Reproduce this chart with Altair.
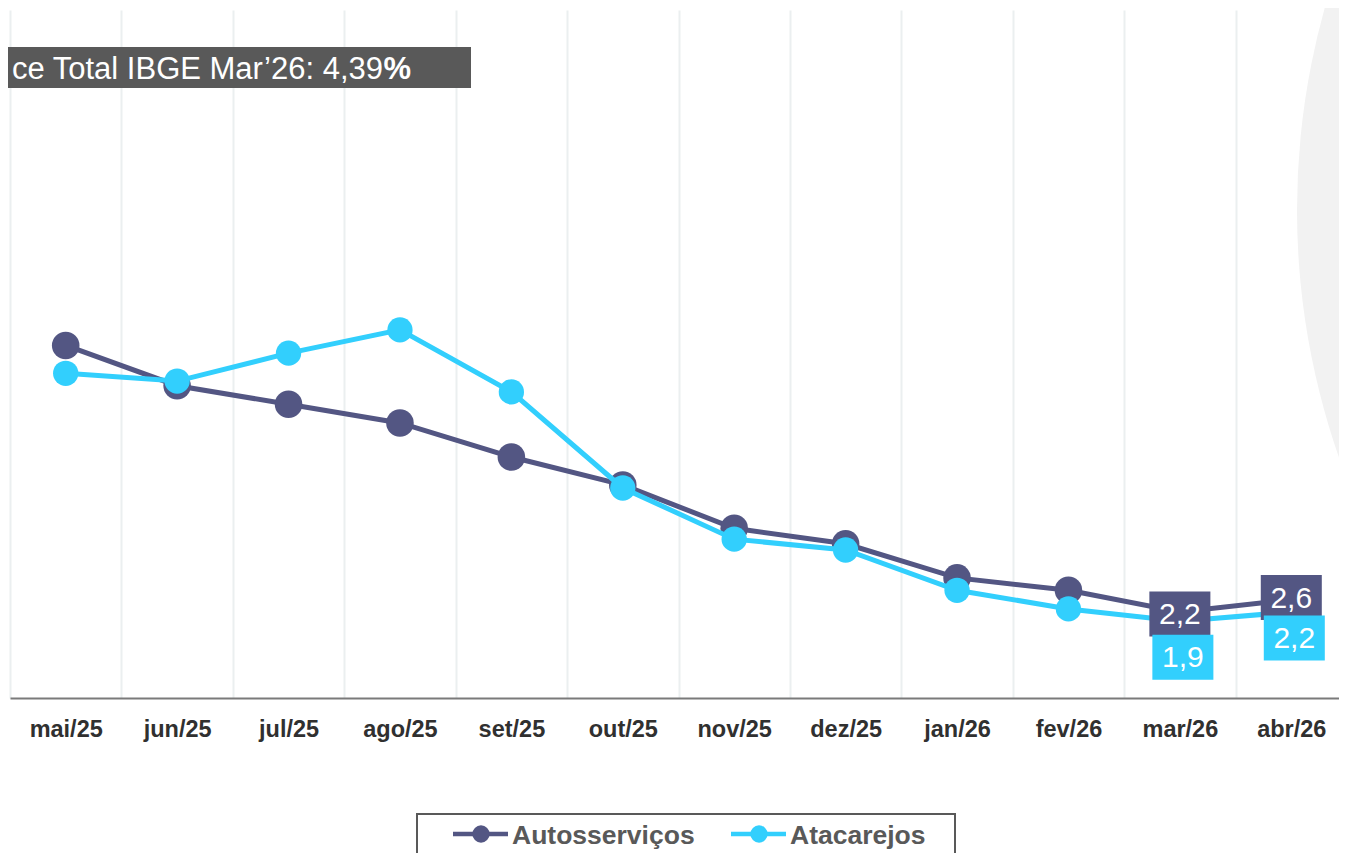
import altair as alt
import pandas as pd

months = ["mai/25", "jun/25", "jul/25", "ago/25", "set/25", "out/25",
          "nov/25", "dez/25", "jan/26", "fev/26", "mar/26", "abr/26"]
auto_vals = [10.8, 9.5, 8.9, 8.3, 7.2, 6.3, 4.9, 4.4, 3.3, 2.9, 2.2, 2.6]
atac_vals = [9.9, 9.65, 10.55, 11.3, 9.3, 6.2, 4.55, 4.2, 2.9, 2.3, 1.9, 2.2]
series = ["Autosserviços", "Atacarejos"]
colors = ["#535683", "#32CFFD"]
labelled_months = ["mar/26", "abr/26"]
title_text = "ce Total IBGE Mar’26: 4,39"
title_pct = "%"

FONT = "Liberation Sans"
DARK, CYAN = colors

rows = []
for m, a, b in zip(months, auto_vals, atac_vals):
    rows.append({"mes": m, "serie": series[0], "valor": a})
    rows.append({"mes": m, "serie": series[1], "valor": b})
df = pd.DataFrame(rows)
df["rotulo"] = df["valor"].map(lambda v: f"{v:.1f}".replace(".", ","))

one = pd.DataFrame({"k": [0]})

x_enc = alt.X(
    "mes:N", sort=months,
    scale=alt.Scale(type="band", paddingInner=0, paddingOuter=0),
    axis=alt.Axis(title=None, labelAngle=0, ticks=False, tickSize=0,
                  tickBand="extent", grid=True, gridColor="#ebeff0",
                  gridWidth=2, domainColor="#7a7a7a", domainWidth=2,
                  labelFont=FONT, labelFontSize=23.5, labelFontWeight="bold",
                  labelColor="#303030", labelPadding=38,
                  labelBaseline="alphabetic"),
)
y_enc = alt.Y("valor:Q", scale=alt.Scale(domain=[-0.574, 21.62]), axis=None)

base = alt.Chart(df).encode(x=x_enc, y=y_enc)

arc = alt.Chart(one).mark_point(shape="circle", filled=True, color="#f2f2f2",
                                opacity=1, size=2250000).encode(
    x=alt.value(2037), y=alt.value(200))


def series_layers(name, color, psize):
    sub = base.transform_filter(alt.datum.serie == name)
    line = sub.mark_line(color=color, strokeWidth=5)
    pts = sub.mark_point(shape="circle", filled=True, color=color, opacity=1,
                         size=psize)
    return [line, pts]


BOX = "M-1.356,-1H1.356V1H-1.356Z"


def label_layers(name, month, color, xo, yo):
    sub = base.transform_filter(
        (alt.datum.serie == name) & (alt.datum.mes == month))
    box = sub.mark_point(shape=BOX, filled=True, color=color, opacity=1,
                         size=2025, strokeWidth=0, xOffset=xo, yOffset=yo)
    txt = sub.mark_text(font=FONT, fontSize=30, color="white", align="center",
                        baseline="middle", dx=xo, dy=yo + 1).encode(
        text="rotulo:N")
    return [box, txt]


labels = []
labels += label_layers(series[0], labelled_months[0], DARK, 0, 2)
labels += label_layers(series[0], labelled_months[1], DARK, 0, -2)
labels += label_layers(series[1], labelled_months[0], CYAN, 3, 36)
labels += label_layers(series[1], labelled_months[1], CYAN, 3, 26)

title_box = alt.Chart(one).mark_rect(color="#595959").encode(
    x=alt.value(-2), x2=alt.value(461), y=alt.value(37), y2=alt.value(78))
title_txt = alt.Chart(one).mark_text(
    font=FONT, fontSize=31, color="white", align="right",
    baseline="alphabetic").encode(
    x=alt.value(373), y=alt.value(69), text=alt.value(title_text))
title_pct_txt = alt.Chart(one).mark_text(
    font=FONT, fontSize=31, fontWeight="bold", color="white", align="right",
    baseline="alphabetic").encode(
    x=alt.value(401), y=alt.value(69), text=alt.value(title_pct))

# legend (drawn manually)
leg_box = alt.Chart(one).mark_rect(fill="white", stroke="#595959",
                                   strokeWidth=2).encode(
    x=alt.value(407), x2=alt.value(945), y=alt.value(804), y2=alt.value(850))


def legend_item(name, color, x0):
    rule = alt.Chart(one).mark_rule(color=color, strokeWidth=4.5).encode(
        x=alt.value(x0), x2=alt.value(x0 + 55), y=alt.value(824))
    dot = alt.Chart(one).mark_point(shape="circle", filled=True, color=color,
                                    opacity=1, size=300).encode(
        x=alt.value(x0 + 28), y=alt.value(824))
    txt = alt.Chart(one).mark_text(font=FONT, fontSize=26.5, fontWeight="bold",
                                   color="#595959", align="left",
                                   baseline="alphabetic").encode(
        x=alt.value(x0 + 59), y=alt.value(834), text=alt.value(name))
    return [rule, dot, txt]


legend = [leg_box] + legend_item(series[0], DARK, 443) + legend_item(series[1], CYAN, 721)

layers = ([arc] + series_layers(series[0], DARK, 760)
          + series_layers(series[1], CYAN, 640) + labels
          + [title_box, title_txt, title_pct_txt] + legend)

chart = alt.layer(*layers).properties(
    width=1337, height=688,
    background="white",
    autosize=alt.AutoSizeParams(type="none"),
    padding={"left": 2, "top": 2, "right": -8, "bottom": 155},
).configure_view(stroke=None)

chart.save("out.html", embed_options={"renderer": "svg", "actions": False})
